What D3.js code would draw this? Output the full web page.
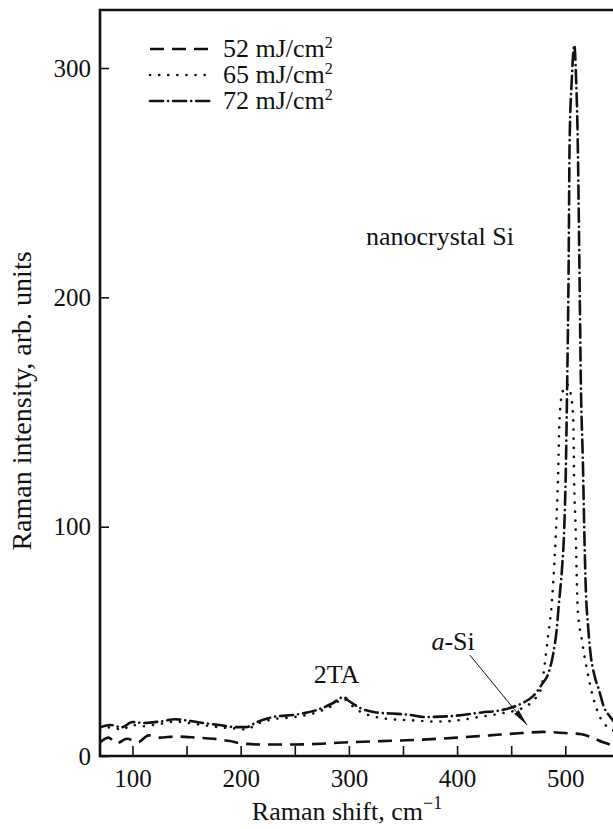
<!DOCTYPE html>
<html>
<head>
<meta charset="utf-8">
<script src="https://cdn.jsdelivr.net/npm/d3@7"></script>
<style>
  html, body { margin: 0; padding: 0; background: #fff; }
  svg { display: block; }
  text { font-family: "Liberation Serif", "Times New Roman", Times, serif; fill: #111; }
</style>
</head>
<body>
<svg id="chart" width="613" height="829"></svg>
<script>
// ---- data ----
// Raman shift, cm^-1 / intensity, arb. units
const shift52 = [70, 78, 85, 95, 105, 115, 125, 140, 160, 175, 190, 200, 220, 250, 280, 300, 330, 360, 400, 430, 460, 480, 500, 515, 525, 535, 545];
const int52   = [6, 8, 5.5, 7.5, 6, 9, 8, 8.5, 8, 7.5, 6.5, 5.5, 5, 5, 5.5, 6, 6.5, 7, 8, 9, 10, 10.5, 10, 9.5, 8, 6, 4.5];

const shift65 = [70, 80, 90, 100, 110, 125, 140, 150, 165, 180, 195, 205, 215, 230, 250, 270, 285, 295, 300, 310, 325, 340, 360, 380, 400, 420, 440, 455, 465, 470, 478, 481, 484, 487, 490, 492, 493.5, 494.5, 497, 501.5, 505, 507.5, 508, 509.5, 511.5, 515.5, 522, 531, 539, 545];
const int65   = [11.5, 12.5, 11.5, 13.5, 13, 14, 15, 14.5, 13.5, 12.5, 12, 11.5, 14, 16, 17, 19, 22, 25, 23, 19.5, 17, 16, 15.5, 15, 15.5, 17, 18.5, 20, 22, 24, 30, 40, 52, 64, 85, 105, 125, 145, 158, 162, 158, 145, 125, 100, 64, 50, 33, 18, 12.6, 11];

const shift72 = [70, 80, 90, 100, 110, 125, 140, 150, 165, 180, 195, 205, 215, 230, 250, 270, 285, 295, 300, 310, 325, 340, 355, 370, 395, 423, 441, 460, 470, 478, 485, 489, 492, 494, 497, 499, 500.5, 501.5, 503, 504, 506, 508.3, 510, 511.5, 513, 514.3, 516.4, 517.5, 519, 521, 523, 527, 531, 536, 540, 545];
const int72   = [12.5, 13.5, 12.5, 14.8, 14.4, 15, 16, 15.5, 14.4, 13.5, 12.6, 12.6, 14.8, 17, 18, 20, 23, 25.7, 24, 21, 19, 18.5, 18, 17, 17.4, 19, 20, 23, 26, 31, 37, 45, 55, 66, 82, 99, 125, 155, 210, 268, 295, 310, 295, 268, 215, 165, 125, 99, 72, 57, 46, 35, 29, 21, 18, 15];

const seriesNames = ["52 mJ/cm", "65 mJ/cm", "72 mJ/cm"];
const xTicksMajor = [100, 200, 300, 400, 500];
const yTicks = [0, 100, 200, 300];

// annotations in data units: [shift, intensity]
const labelNano = { text: "nanocrystal Si", at: [315.8, 222.9] };
const label2TA  = { text: "2TA", at: [267.5, 31.8] };
const labelASi  = { at: [376.3, 46.2] };
const arrowASi  = { from: [411.8, 44], to: [464.7, 13.5] };

// ---- layout ----
const svg = d3.select("#chart");
const m = { left: 100, top: 10, bottom: 756, right: 614 };
const x = d3.scaleLinear().domain([70, 545]).range([m.left, m.right]);
const y = d3.scaleLinear().domain([0, 325.3]).range([m.bottom, m.top]);
const FS = 26;

const styles = [
  { dash: "14 8", cap: "butt" },
  { dash: "0.1 9", cap: "round" },
  { dash: "13 5 0.1 5", cap: "round" }
];

const defs = svg.append("defs");
defs.append("clipPath").attr("id", "plot")
  .append("rect").attr("x", m.left).attr("y", m.top).attr("width", m.right - m.left).attr("height", m.bottom - m.top);

// curves
const line = d3.line().x((d) => x(d[0])).y((d) => y(d[1])).curve(d3.curveMonotoneX);
const series = [
  d3.zip(shift52, int52),
  d3.zip(shift65, int65),
  d3.zip(shift72, int72)
];
svg.append("g").attr("clip-path", "url(#plot)")
  .selectAll("path").data(series).join("path")
  .attr("d", line)
  .attr("fill", "none")
  .attr("stroke", "#111")
  .attr("stroke-width", 2.6)
  .attr("stroke-linecap", (d, i) => styles[i].cap)
  .attr("stroke-dasharray", (d, i) => styles[i].dash);

// axes
const xAxis = d3.axisBottom(x).tickValues(d3.range(100, 545, 50)).tickSize(-10).tickPadding(13)
  .tickFormat((d) => (xTicksMajor.includes(d) ? d : ""));
const gx = svg.append("g").attr("transform", `translate(0,${m.bottom})`).call(xAxis);
const yAxis = d3.axisLeft(y).tickValues(yTicks).tickSize(-9).tickPadding(9);
const gy = svg.append("g").attr("transform", `translate(${m.left},0)`).call(yAxis);
for (const g of [gx, gy]) {
  g.attr("font-family", null);
  g.select(".domain").remove();
  g.selectAll(".tick line").attr("stroke", "#111").attr("stroke-width", 1.6);
  g.selectAll(".tick text").attr("font-size", 25).attr("fill", "#111");
}
gy.selectAll(".tick text").attr("dy", "0.33em");

// frame: left, top, bottom
svg.append("path")
  .attr("d", `M${m.right},${m.top}H${m.left}V${m.bottom}H${m.right}`)
  .attr("fill", "none").attr("stroke", "#111").attr("stroke-width", 2.6);

// axis titles
const xt = svg.append("text").attr("x", 347).attr("y", 820).attr("text-anchor", "middle").attr("font-size", FS);
xt.append("tspan").text("Raman shift, cm");
xt.append("tspan").attr("dy", -11).attr("font-size", 18).text("\u22121");

svg.append("text")
  .attr("transform", "translate(31,401) rotate(-90)")
  .attr("text-anchor", "middle").attr("font-size", 28)
  .text("Raman intensity, arb. units");

// legend
const lg = svg.append("g").selectAll("g").data(seriesNames).join("g")
  .attr("transform", (d, i) => `translate(150,${49 + i * 26})`);
lg.append("line").attr("x1", 0).attr("x2", 63).attr("y1", 0).attr("y2", 0)
  .attr("stroke", "#111").attr("stroke-width", 2.6)
  .attr("stroke-linecap", (d, i) => styles[i].cap)
  .attr("stroke-dasharray", (d, i) => styles[i].dash);
const lt = lg.append("text").attr("x", 73).attr("y", 8).attr("font-size", FS);
lt.append("tspan").text((d) => d);
lt.append("tspan").attr("dy", -9).attr("font-size", 16).text("2");

// annotations
svg.append("text").attr("x", x(labelNano.at[0])).attr("y", y(labelNano.at[1])).attr("font-size", FS).text(labelNano.text);
svg.append("text").attr("x", x(label2TA.at[0])).attr("y", y(label2TA.at[1])).attr("font-size", FS).text(label2TA.text);
const as = svg.append("text").attr("x", x(labelASi.at[0])).attr("y", y(labelASi.at[1])).attr("font-size", FS);
as.append("tspan").attr("font-style", "italic").text("a");
as.append("tspan").text("-Si");

defs.append("marker").attr("id", "head")
  .attr("viewBox", "0 0 17 6").attr("refX", 17).attr("refY", 3)
  .attr("markerWidth", 17).attr("markerHeight", 6).attr("markerUnits", "userSpaceOnUse")
  .attr("orient", "auto")
  .append("path").attr("d", "M0,0L17,3L0,6Z").attr("fill", "#111");
svg.append("line")
  .attr("x1", x(arrowASi.from[0])).attr("y1", y(arrowASi.from[1]))
  .attr("x2", x(arrowASi.to[0])).attr("y2", y(arrowASi.to[1]))
  .attr("stroke", "#111").attr("stroke-width", 1)
  .attr("marker-end", "url(#head)");
</script>
</body>
</html>
